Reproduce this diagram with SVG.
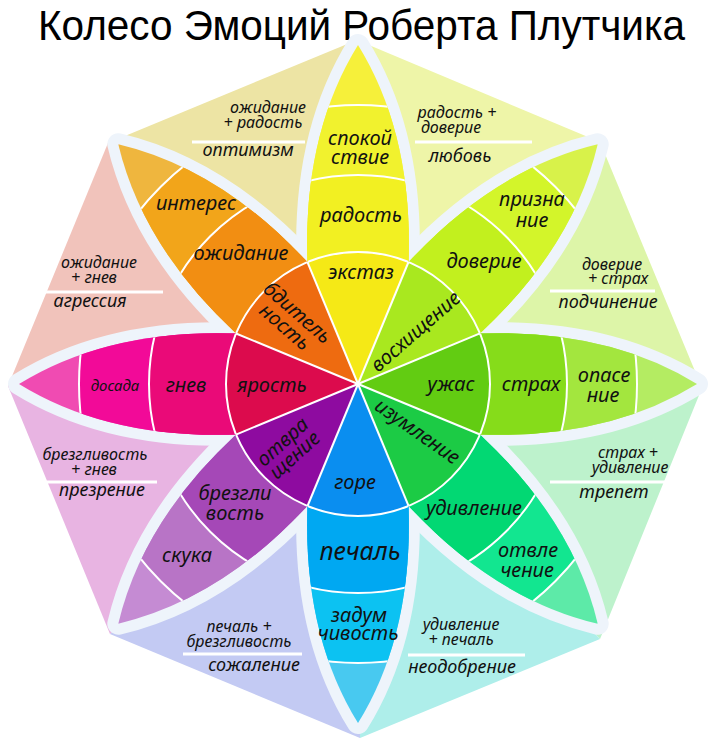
<svg xmlns="http://www.w3.org/2000/svg" width="715" height="744" viewBox="0 0 715 744">
<defs>
<path id="petal" d="M358,384 L307.5,262 Q303,134 358,45 Q413,134 408.5,262 Z"/>
<clipPath id="pc"><use href="#petal"/></clipPath>
</defs>
<style>
.gap{fill:#eef4fb;stroke:#eef4fb;stroke-width:22;stroke-linejoin:round}
.sep{fill:none;stroke:#ffffff;stroke-width:2}
.lb{font-family:"Noto Sans","DejaVu Sans",sans-serif;font-style:italic;font-size:20px;fill:#111;text-anchor:middle}
.cb{font-family:"Noto Sans","DejaVu Sans",sans-serif;font-style:italic;font-size:16px;fill:#111;text-anchor:middle}
.cn{font-family:"Noto Sans","DejaVu Sans",sans-serif;font-style:italic;font-size:18px;fill:#111;text-anchor:middle}
.ln{stroke:#ffffff;stroke-width:3}
.title{font-family:"Liberation Sans",Arial,sans-serif;font-size:42px;fill:#000}
</style>
<rect width="715" height="744" fill="#ffffff"/>
<text class="title" x="38" y="40" textLength="647" lengthAdjust="spacingAndGlyphs">Колесо Эмоций Роберта Плутчика</text>

<g id="combinations">
<g id="love"><polygon points="358,384 357,40 600,142" fill="#eef5a8"/></g>
<g id="submission"><polygon points="358,384 600,142 702,388" fill="#ddf5a8"/></g>
<g id="awe"><polygon points="358,384 702,388 600,639" fill="#bdf2cc"/></g>
<g id="disapproval"><polygon points="358,384 600,639 360,738" fill="#aeeeea"/></g>
<g id="remorse"><polygon points="358,384 360,738 110,634" fill="#c3caf3"/></g>
<g id="contempt"><polygon points="358,384 110,634 8,386" fill="#e8b4e2"/></g>
<g id="aggression"><polygon points="358,384 8,386 108,143" fill="#f1c3bb"/></g>
<g id="optimism"><polygon points="358,384 108,143 357,40" fill="#ede4a4"/></g>
</g>

<g id="gaps">
<use href="#petal" class="gap"/>
<use href="#petal" class="gap" transform="rotate(45 358 384)"/>
<use href="#petal" class="gap" transform="rotate(90 358 384)"/>
<use href="#petal" class="gap" transform="rotate(135 358 384)"/>
<use href="#petal" class="gap" transform="rotate(180 358 384)"/>
<use href="#petal" class="gap" transform="rotate(225 358 384)"/>
<use href="#petal" class="gap" transform="rotate(270 358 384)"/>
<use href="#petal" class="gap" transform="rotate(315 358 384)"/>
</g>

<g id="joy">
<g clip-path="url(#pc)">
<circle cx="358" cy="384" r="345" fill="#f6f03a"/>
<circle cx="358" cy="384" r="279" fill="#f1f22e"/>
<circle cx="358" cy="384" r="209" fill="#f2f022"/>
<circle cx="358" cy="384" r="132" fill="#f5e916"/>
<circle cx="358" cy="384" r="132" class="sep"/><circle cx="358" cy="384" r="209" class="sep"/><circle cx="358" cy="384" r="279" class="sep"/>
</g>
</g>
<g id="trust">
<g transform="rotate(45 358 384)" clip-path="url(#pc)">
<circle cx="358" cy="384" r="345" fill="#d8f24a"/>
<circle cx="358" cy="384" r="279" fill="#d3f52a"/>
<circle cx="358" cy="384" r="209" fill="#c2f01e"/>
<circle cx="358" cy="384" r="132" fill="#a9e81f"/>
<circle cx="358" cy="384" r="132" class="sep"/><circle cx="358" cy="384" r="209" class="sep"/><circle cx="358" cy="384" r="279" class="sep"/>
</g>
</g>
<g id="fear">
<g transform="rotate(90 358 384)" clip-path="url(#pc)">
<circle cx="358" cy="384" r="345" fill="#b4ec62"/>
<circle cx="358" cy="384" r="279" fill="#a3e63e"/>
<circle cx="358" cy="384" r="209" fill="#86dc1a"/>
<circle cx="358" cy="384" r="132" fill="#62cc12"/>
<circle cx="358" cy="384" r="132" class="sep"/><circle cx="358" cy="384" r="209" class="sep"/><circle cx="358" cy="384" r="279" class="sep"/>
</g>
</g>
<g id="surprise">
<g transform="rotate(135 358 384)" clip-path="url(#pc)">
<circle cx="358" cy="384" r="345" fill="#5deaa8"/>
<circle cx="358" cy="384" r="279" fill="#12e690"/>
<circle cx="358" cy="384" r="209" fill="#02d873"/>
<circle cx="358" cy="384" r="132" fill="#1ccb45"/>
<circle cx="358" cy="384" r="132" class="sep"/><circle cx="358" cy="384" r="209" class="sep"/><circle cx="358" cy="384" r="279" class="sep"/>
</g>
</g>
<g id="sadness">
<g transform="rotate(180 358 384)" clip-path="url(#pc)">
<circle cx="358" cy="384" r="345" fill="#48c9f0"/>
<circle cx="358" cy="384" r="279" fill="#0cc2f2"/>
<circle cx="358" cy="384" r="209" fill="#00a8f2"/>
<circle cx="358" cy="384" r="132" fill="#0a8ef0"/>
<circle cx="358" cy="384" r="132" class="sep"/><circle cx="358" cy="384" r="209" class="sep"/><circle cx="358" cy="384" r="279" class="sep"/>
</g>
</g>
<g id="disgust">
<g transform="rotate(225 358 384)" clip-path="url(#pc)">
<circle cx="358" cy="384" r="345" fill="#c58bd3"/>
<circle cx="358" cy="384" r="279" fill="#b874c6"/>
<circle cx="358" cy="384" r="209" fill="#a548b7"/>
<circle cx="358" cy="384" r="132" fill="#8e0ba0"/>
<circle cx="358" cy="384" r="132" class="sep"/><circle cx="358" cy="384" r="209" class="sep"/><circle cx="358" cy="384" r="279" class="sep"/>
</g>
</g>
<g id="anger">
<g transform="rotate(270 358 384)" clip-path="url(#pc)">
<circle cx="358" cy="384" r="345" fill="#f04bb2"/>
<circle cx="358" cy="384" r="279" fill="#f20a98"/>
<circle cx="358" cy="384" r="209" fill="#ea0a78"/>
<circle cx="358" cy="384" r="132" fill="#dc0b4d"/>
<circle cx="358" cy="384" r="132" class="sep"/><circle cx="358" cy="384" r="209" class="sep"/><circle cx="358" cy="384" r="279" class="sep"/>
</g>
</g>
<g id="anticipation">
<g transform="rotate(315 358 384)" clip-path="url(#pc)">
<circle cx="358" cy="384" r="345" fill="#efb63e"/>
<circle cx="358" cy="384" r="279" fill="#f2a51a"/>
<circle cx="358" cy="384" r="209" fill="#f28e12"/>
<circle cx="358" cy="384" r="132" fill="#ee6b10"/>
<circle cx="358" cy="384" r="132" class="sep"/><circle cx="358" cy="384" r="209" class="sep"/><circle cx="358" cy="384" r="279" class="sep"/>
</g>
</g>

<g id="dividers" class="sep">
<line x1="358" y1="384" x2="408.5" y2="262"/>
<line x1="358" y1="384" x2="408.5" y2="262" transform="rotate(45 358 384)"/>
<line x1="358" y1="384" x2="408.5" y2="262" transform="rotate(90 358 384)"/>
<line x1="358" y1="384" x2="408.5" y2="262" transform="rotate(135 358 384)"/>
<line x1="358" y1="384" x2="408.5" y2="262" transform="rotate(180 358 384)"/>
<line x1="358" y1="384" x2="408.5" y2="262" transform="rotate(225 358 384)"/>
<line x1="358" y1="384" x2="408.5" y2="262" transform="rotate(270 358 384)"/>
<line x1="358" y1="384" x2="408.5" y2="262" transform="rotate(315 358 384)"/>
</g>

<g id="combination-lines">
<line class="ln" x1="192" y1="142" x2="305" y2="142"/>
<line class="ln" x1="415" y1="142" x2="532" y2="142"/>
<line class="ln" x1="550" y1="291" x2="655" y2="291"/>
<line class="ln" x1="550" y1="482" x2="667" y2="482"/>
<line class="ln" x1="408" y1="655" x2="525" y2="655"/>
<line class="ln" x1="183" y1="654" x2="302" y2="654"/>
<line class="ln" x1="47" y1="482" x2="157" y2="482"/>
<line class="ln" x1="43" y1="292" x2="163" y2="292"/>
</g>

<g id="labels">
<text class="lb"><tspan x="360" y="145">спокой</tspan><tspan x="360" y="164">ствие</tspan></text>
<text class="lb" x="361" y="222">радость</text>
<text class="lb" x="361" y="279">экстаз</text>

<text class="lb" x="196" y="210">интерес</text>
<text class="lb" x="241" y="260">ожидание</text>
<text class="lb" transform="translate(291,320) rotate(41)"><tspan x="0" y="-3">бдитель</tspan><tspan x="0" y="16">ность</tspan></text>

<text class="lb"><tspan x="532" y="206">призна</tspan><tspan x="532" y="227">ние</tspan></text>
<text class="lb" x="484" y="268">доверие</text>
<text class="lb" transform="translate(416,332) rotate(-41)" y="6">восхищение</text>

<text class="lb" x="451" y="391">ужас</text>
<text class="lb" x="531" y="391">страх</text>
<text class="lb"><tspan x="604" y="382">опасе</tspan><tspan x="603" y="402">ние</tspan></text>

<text class="lb" transform="translate(417,432) rotate(35)" y="6">изумление</text>
<text class="lb" x="474" y="515">удивление</text>
<text class="lb"><tspan x="528" y="557">отвле</tspan><tspan x="527" y="577">чение</tspan></text>

<text class="lb" x="355" y="489">горе</text>
<text class="lb" x="360" y="560" style="font-size:25px">печаль</text>
<text class="lb"><tspan x="359" y="622">задум</tspan><tspan x="358" y="640">чивость</tspan></text>

<text class="lb" transform="translate(289,449) rotate(-42)"><tspan x="0" y="-3">отвра</tspan><tspan x="0" y="15">щение</tspan></text>
<text class="lb"><tspan x="235" y="500">брезгли</tspan><tspan x="235" y="520">вость</tspan></text>
<text class="lb" x="187" y="562">скука</text>

<text class="lb" x="272" y="392">ярость</text>
<text class="lb" x="186" y="392">гнев</text>
<text class="lb" x="115" y="391" style="font-size:15px">досада</text>

<text class="cb"><tspan x="268" y="113">ожидание</tspan><tspan x="263" y="128">+ радость</tspan></text>
<text class="cn" x="248" y="156">оптимизм</text>

<text class="cb"><tspan x="457" y="118">радость +</tspan><tspan x="451" y="133">доверие</tspan></text>
<text class="cn" x="460" y="162">любовь</text>

<text class="cb"><tspan x="612" y="270">доверие</tspan><tspan x="618" y="284">+ страх</tspan></text>
<text class="cn" x="608" y="308">подчинение</text>

<text class="cb"><tspan x="628" y="458">страх +</tspan><tspan x="630" y="473">удивление</tspan></text>
<text class="cn" x="614" y="498">трепет</text>

<text class="cb"><tspan x="461" y="630">удивление</tspan><tspan x="461" y="645">+ печаль</tspan></text>
<text class="cn" x="462" y="673">неодобрение</text>

<text class="cb"><tspan x="239" y="632">печаль +</tspan><tspan x="239" y="647">брезгливость</tspan></text>
<text class="cn" x="254" y="671">сожаление</text>

<text class="cb"><tspan x="95" y="460">брезгливость</tspan><tspan x="94" y="475">+ гнев</tspan></text>
<text class="cn" x="102" y="496">презрение</text>

<text class="cb"><tspan x="99" y="268">ожидание</tspan><tspan x="94" y="283">+ гнев</tspan></text>
<text class="cn" x="90" y="307">агрессия</text>
</g>
</svg>
